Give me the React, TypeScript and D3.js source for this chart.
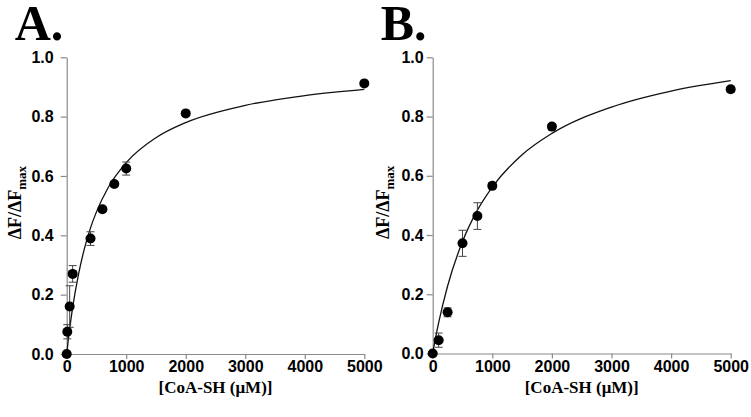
import * as d3 from "d3";
import React, { useRef, useEffect } from "react";

const width = 751;
const height = 417;

// panel A: measured points, SEM and the drawn fit line
const concA = [0, 10, 50, 100, 400, 600, 800, 1000, 2000, 5000];
const respA = [0, 0.075, 0.16, 0.27, 0.389, 0.488, 0.573, 0.625, 0.811, 0.912];
const errA = [0, 0.024, 0.07, 0.028, 0.023, 0.008, 0.008, 0.022, 0, 0];
const fitXA = [0, 25, 50, 100, 200, 300, 400, 500, 700, 1000, 1500, 2000, 3000, 4000, 5000];
const fitYA = [0, 0.045, 0.085, 0.157, 0.27, 0.357, 0.425, 0.479, 0.562, 0.645, 0.729, 0.78, 0.838, 0.871, 0.892];

// panel B
const concB = [0, 100, 250, 500, 750, 1000, 2000, 5000];
const respB = [0, 0.045, 0.139, 0.372, 0.464, 0.566, 0.766, 0.892];
const errB = [0, 0.024, 0.015, 0.044, 0.045, 0.01, 0.01, 0.01];
const fitXB = [0, 50, 100, 250, 500, 750, 1000, 1500, 2000, 3000, 4000, 5000];
const fitYB = [0, 0.055, 0.104, 0.228, 0.378, 0.484, 0.562, 0.671, 0.743, 0.832, 0.886, 0.921];

const xTicks = [0, 1000, 2000, 3000, 4000, 5000];
const yTicks = [0, 0.2, 0.4, 0.6, 0.8, 1.0];

const axisGray = "#8a8a8a";
const sans = "'Liberation Sans', Arial, sans-serif";
const serif = "'Liberation Serif', 'Times New Roman', serif";

const Panel = ({ letter, left, right, top, bottom, yPad, titleX, conc, resp, err, fitX, fitY }) => {
  const xAxisRef = useRef(null);
  const yAxisRef = useRef(null);

  const xScale = d3.scaleLinear().domain([0, 5000]).range([left, right]);
  const yScale = d3.scaleLinear().domain([0, 1]).range([bottom, top]);

  useEffect(() => {
    const style = (g) => {
      g.select(".domain").attr("stroke", axisGray).attr("stroke-width", 1.2);
      g.selectAll(".tick line").attr("stroke", axisGray).attr("stroke-width", 1.2);
      g.selectAll(".tick text")
        .attr("fill", "#000")
        .style("font-family", sans)
        .style("font-weight", "bold")
        .style("font-size", "16px");
    };
    if (xAxisRef.current) {
      const xAxis = d3.axisBottom(xScale).tickValues(xTicks).tickFormat(d3.format("d")).tickSize(5).tickSizeOuter(0).tickPadding(2);
      d3.select(xAxisRef.current).call(xAxis).call(style);
    }
    if (yAxisRef.current) {
      const yAxis = d3.axisLeft(yScale).tickValues(yTicks).tickFormat(d3.format(".1f")).tickSize(6).tickSizeOuter(0).tickPadding(yPad);
      d3.select(yAxisRef.current).call(yAxis).call(style);
    }
  }, [xScale, yScale]);

  const line = d3
    .line()
    .x((d) => xScale(d[0]))
    .y((d) => yScale(d[1]))
    .curve(d3.curveMonotoneX);
  const fitPts = fitX.map((x, i) => [x, fitY[i]]);

  const midY = (top + bottom) / 2 - 3;
  const midX = (left + right) / 2;

  return (
    <g>
      <text x={left - 52} y={40} fontFamily={serif} fontWeight="bold" fontSize={50}>
        {letter}
      </text>
      <g ref={xAxisRef} transform={`translate(0, ${bottom})`} />
      <g ref={yAxisRef} transform={`translate(${left}, 0)`} />
      <path d={line(fitPts)} fill="none" stroke="#111" strokeWidth={1.3} />
      {conc.map((c, i) =>
        err[i] > 0 ? (
          <g key={"e" + i} stroke="#444" strokeWidth={1}>
            <line x1={xScale(c)} x2={xScale(c)} y1={yScale(resp[i] - err[i])} y2={yScale(resp[i] + err[i])} />
            <line x1={xScale(c) - 4} x2={xScale(c) + 4} y1={yScale(resp[i] - err[i])} y2={yScale(resp[i] - err[i])} />
            <line x1={xScale(c) - 4} x2={xScale(c) + 4} y1={yScale(resp[i] + err[i])} y2={yScale(resp[i] + err[i])} />
          </g>
        ) : null
      )}
      {conc.map((c, i) => (
        <circle key={"p" + i} cx={xScale(c)} cy={yScale(resp[i])} r={5} fill="#000" />
      ))}
      <text
        transform={`translate(${titleX}, ${midY}) rotate(-90)`}
        textAnchor="middle"
        fontFamily={serif}
        fontWeight="bold"
        fontSize={18}
      >
        ΔF/ΔF
        <tspan fontSize={13} dy={5}>
          max
        </tspan>
      </text>
      <text x={midX} y={393} textAnchor="middle" fontFamily={serif} fontWeight="bold" fontSize={17}>
        [CoA-SH (μM)]
      </text>
    </g>
  );
};

export default function App() {
  return (
    <svg width={width} height={height} style={{ position: "absolute", left: 0, top: 0, background: "#fff" }}>
      <Panel
        letter="A."
        left={66.7}
        right={364.3}
        top={57.3}
        bottom={354}
        yPad={7}
        titleX={21}
        conc={concA}
        resp={respA}
        err={errA}
        fitX={fitXA}
        fitY={fitYA}
      />
      <Panel
        letter="B."
        left={432.7}
        right={730.7}
        top={57.3}
        bottom={353.5}
        yPad={3}
        titleX={389}
        conc={concB}
        resp={respB}
        err={errB}
        fitX={fitXB}
        fitY={fitYB}
      />
    </svg>
  );
}
